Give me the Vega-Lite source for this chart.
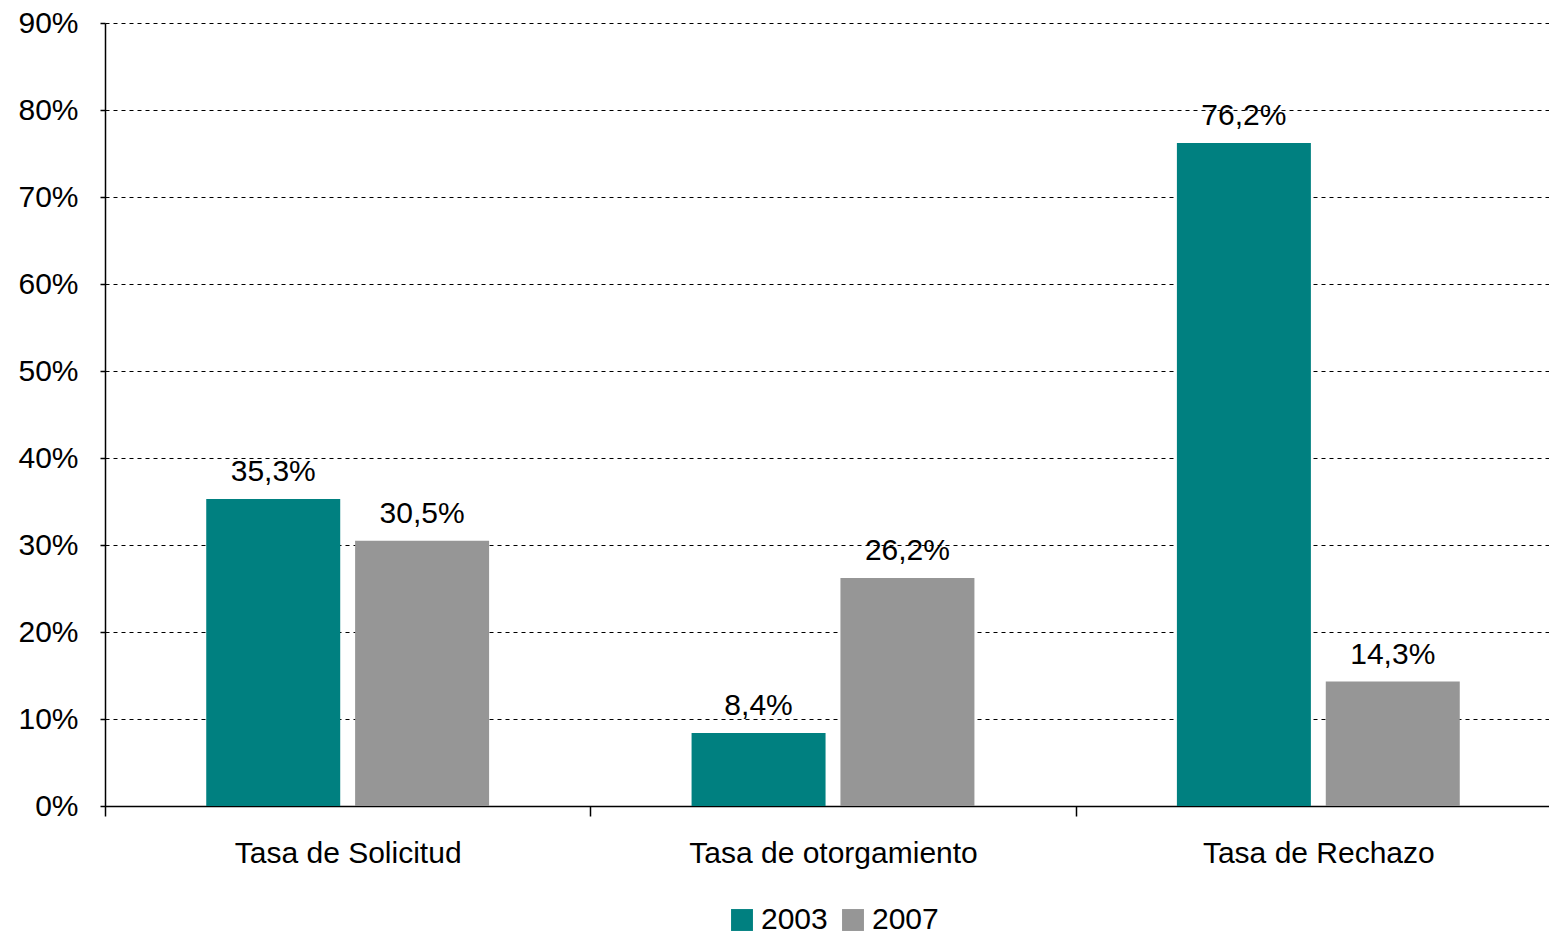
{
  "$schema": "https://vega.github.io/schema/vega-lite/v6.json",
  "autosize": "none",
  "padding": {"left": 105, "top": 23, "right": 0, "bottom": 130},
  "width": 1456,
  "height": 783,
  "background": "white",
  "data": {"values": [
    {"cat": "Tasa de Solicitud", "year": "2003", "value": 0.353, "label": "35,3%"},
    {"cat": "Tasa de Solicitud", "year": "2007", "value": 0.305, "label": "30,5%"},
    {"cat": "Tasa de otorgamiento", "year": "2003", "value": 0.084, "label": "8,4%"},
    {"cat": "Tasa de otorgamiento", "year": "2007", "value": 0.262, "label": "26,2%"},
    {"cat": "Tasa de Rechazo", "year": "2003", "value": 0.762, "label": "76,2%"},
    {"cat": "Tasa de Rechazo", "year": "2007", "value": 0.143, "label": "14,3%"}
  ]},
  "config": {
    "font": "Liberation Sans",
    "view": {"stroke": null},
    "legend": {"layout": {"bottom": {"anchor": "middle"}}}
  },
  "encoding": {
    "x": {
      "field": "cat", "type": "nominal", "sort": null, "title": null,
      "scale": {"paddingInner": 0, "paddingOuter": 0},
      "axis": {
        "labelAngle": 0, "labelFont": "Liberation Sans", "labelFontSize": 30, "labelColor": "black",
        "labelLimit": 0, "labelPadding": 22, "domainColor": "black", "domainWidth": 1.5,
        "tickBand": "extent", "tickColor": "black", "tickSize": 10, "tickWidth": 1.5, "grid": false
      }
    },
    "xOffset": {"field": "year", "type": "nominal", "scale": {"paddingInner": 0.1, "paddingOuter": 0.68}},
    "y": {
      "field": "value", "type": "quantitative", "title": null,
      "scale": {"domain": [0, 0.9], "nice": false},
      "axis": {
        "values": [0, 0.1, 0.2, 0.3, 0.4, 0.5, 0.6, 0.7, 0.8, 0.9],
        "format": ".0%", "labelFont": "Liberation Sans", "labelFontSize": 30, "labelColor": "black",
        "labelPadding": 22, "domainColor": "black", "domainWidth": 1.5,
        "tickColor": "black", "tickSize": 5, "tickWidth": 1.5,
        "grid": true, "gridColor": "black", "gridDash": [4, 4], "gridWidth": 1, "gridOpacity": 1
      }
    }
  },
  "layer": [
    {
      "mark": {"type": "bar"},
      "encoding": {
        "color": {
          "field": "year", "type": "nominal", "title": null,
          "scale": {"domain": ["2003", "2007"], "range": ["#008080", "#969696"]},
          "legend": {
            "orient": "bottom", "direction": "horizontal", "offset": 37,
            "symbolType": "square", "symbolSize": 480, "symbolStrokeWidth": 0, "symbolOpacity": 1,
            "labelFont": "Liberation Sans", "labelFontSize": 30, "labelColor": "black",
            "labelOffset": 4, "columnPadding": 10
          }
        }
      }
    },
    {
      "mark": {"type": "text", "baseline": "alphabetic", "dy": -18, "fontSize": 30, "font": "Liberation Sans", "color": "black"},
      "encoding": {"text": {"field": "label"}}
    }
  ]
}
